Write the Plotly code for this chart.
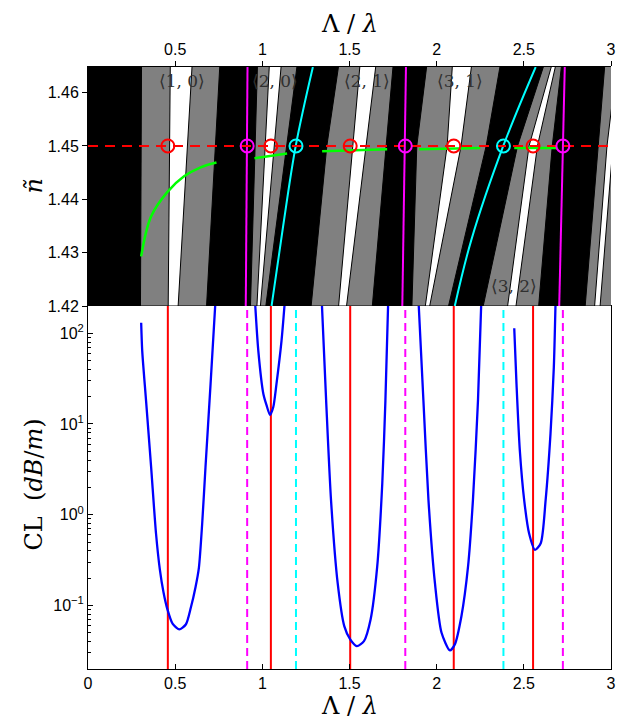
import plotly.graph_objects as go

# ---------------- data ----------------
# effective-index levels at which the band edges are sampled
BAND_N = [1.42, 1.45, 1.465]

# band groups: x (Lambda/lambda) of each edge at the BAND_N levels
BAND_GRAY_LEFT = [
    [0.301, 0.305, 0.307],
    [0.932, 0.959, 0.972],
    [1.280, 1.370, 1.4375],
    [1.858, 1.886, 1.943],
    [2.267, 2.464, 2.614],
    [2.852, 2.926, 2.964],
]
BAND_WHITE_LEFT = [
    [0.460, 0.467, 0.472],
    [0.969, 1.016, 1.040],
    [1.4375, 1.517, 1.5597],
    [1.935, 2.060, 2.090],
    [2.407, 2.530, 2.659],
    [2.906, 2.977, 3.032],
]
BAND_WHITE_RIGHT = [
    [0.517, 0.570, 0.597],
    [0.989, 1.068, 1.108],
    [1.483, 1.595, 1.651],
    [1.960, 2.140, 2.200],
    [2.455, 2.578, 2.682],
    [2.9375, 3.011, 3.068],
]
BAND_GRAY_RIGHT = [
    [0.680, 0.730, 0.756],
    [1.020, 1.139, 1.199],
    [1.631, 1.710, 1.750],
    [2.068, 2.284, 2.364],
    [2.585, 2.663, 2.716],
    [3.011, 3.136, 3.250],
]

MODE_LABELS = ["⟨1, 0⟩", "⟨2, 0⟩", "⟨2, 1⟩", "⟨3, 1⟩", "⟨3, 2⟩"]
MODE_LABEL_X = [0.542, 1.072, 1.602, 2.133, 2.445]
MODE_LABEL_N = [1.4622, 1.4622, 1.4622, 1.4622, 1.4237]

N_CORE = 1.45

# resonance positions
RED_X = [0.458, 1.049, 1.504, 2.098, 2.553]
MAGENTA_X = [0.913, 1.820, 2.724]
CYAN_X = [1.193, 2.383]

# slanted magenta lines (x at bottom and top of n range)
MAGENTA_LINE_N = [1.42, 1.465]
MAGENTA_LINE_X = [[0.905, 0.915], [1.803, 1.824], [2.703, 2.735]]

# cyan dispersion curves
CYAN1_X = [1.053, 1.119, 1.1915, 1.290]
CYAN1_N = [1.42, 1.4349, 1.45, 1.4648]
CYAN2_X = [2.104, 2.199, 2.382, 2.568]
CYAN2_N = [1.42, 1.4324, 1.45, 1.4648]

# green core-mode curves
GREEN_SEGMENTS = [
    ([0.305, 0.362, 0.456, 0.551, 0.646, 0.737],
     [1.4293, 1.4368, 1.4414, 1.4443, 1.4460, 1.4469]),
    ([0.955, 1.142], [1.4477, 1.4486]),
    ([1.343, 1.716], [1.4490, 1.4494]),
    ([1.899, 2.250], [1.4494, 1.4496]),
    ([2.445, 2.692], [1.4496, 1.4496]),
]

# confinement loss (dB/m) segments
CL_SEGMENTS = [
    ([0.305, 0.311, 0.333, 0.362, 0.390, 0.412, 0.433, 0.456, 0.485, 0.523, 0.561, 0.590, 0.617, 0.636, 0.655, 0.674, 0.703, 0.731],
     [130.6, 64, 18.1, 3.36, 0.625, 0.25, 0.14, 0.090, 0.063, 0.0545, 0.0617, 0.095, 0.16, 0.26, 0.80, 3.36, 27.5, 224]),
    ([0.958, 0.977, 1.006, 1.0245, 1.044, 1.0625, 1.081, 1.110, 1.129],
     [224, 64, 21.4, 16.0, 12.6, 15.3, 27.5, 82.4, 224]),
    ([1.341, 1.366, 1.394, 1.432, 1.470, 1.504, 1.542, 1.583, 1.621, 1.659, 1.688, 1.706, 1.722],
     [224, 18.1, 1.45, 0.177, 0.0592, 0.0423, 0.0357, 0.0405, 0.070, 0.269, 2.21, 18.1, 224]),
    ([1.896, 1.924, 1.953, 1.990, 2.028, 2.076, 2.104, 2.142, 2.180, 2.208, 2.237, 2.256],
     [224, 18.1, 1.45, 0.177, 0.050, 0.032, 0.0372, 0.0762, 0.269, 1.45, 18.1, 224]),
    ([2.445, 2.458, 2.477, 2.502, 2.530, 2.564, 2.597, 2.625, 2.653, 2.672, 2.682],
     [113.5, 27.5, 5.12, 1.45, 0.625, 0.41, 0.485, 1.45, 7.82, 42, 224]),
]

X_TICKS = [0, 0.5, 1, 1.5, 2, 2.5, 3]
X_TICK_TEXT = ["0", "0.5", "1", "1.5", "2", "2.5", "3"]
N_TICKS = [1.42, 1.43, 1.44, 1.45, 1.46]
CL_TICKS = [0.1, 1, 10, 100]
CL_TICK_TEXT = ["10<sup>−1</sup>", "10<sup>0</sup>", "10<sup>1</sup>", "10<sup>2</sup>"]
CL_MINOR = [m * 10 ** e for e in (-2, -1, 0, 1, 2) for m in range(2, 10)]

# ---------------- figure ----------------
RED, MAG, CYAN, GREEN, BLUE = "#ff0000", "#ff00ff", "#00ffff", "#00ff00", "#0000ff"
SANS = "Liberation Sans, Arial, sans-serif"
SERIF = "DejaVu Serif, Liberation Serif, serif"

fig = go.Figure()


def band_polygon(left, right):
    xs = list(left) + list(reversed(right))
    ys = list(BAND_N) + list(reversed(BAND_N))
    return xs + [xs[0]], ys + [ys[0]]


# gray bands, then white bands inside them
for gl, gr in zip(BAND_GRAY_LEFT, BAND_GRAY_RIGHT):
    xs, ys = band_polygon(gl, gr)
    fig.add_trace(go.Scatter(x=xs, y=ys, xaxis="x2", yaxis="y2", mode="lines",
                             fill="toself", fillcolor="#808080",
                             line=dict(color="black", width=1), hoverinfo="skip"))
for wl, wr in zip(BAND_WHITE_LEFT, BAND_WHITE_RIGHT):
    xs, ys = band_polygon(wl, wr)
    fig.add_trace(go.Scatter(x=xs, y=ys, xaxis="x2", yaxis="y2", mode="lines",
                             fill="toself", fillcolor="white",
                             line=dict(color="black", width=1), hoverinfo="skip"))

# green core-mode curves
for gx, gn in GREEN_SEGMENTS:
    fig.add_trace(go.Scatter(x=gx, y=gn, xaxis="x2", yaxis="y2", mode="lines",
                             line=dict(color=GREEN, width=2.5, shape="spline"),
                             hoverinfo="skip"))

# magenta lines
for mx in MAGENTA_LINE_X:
    fig.add_trace(go.Scatter(x=mx, y=MAGENTA_LINE_N, xaxis="x2", yaxis="y2", mode="lines",
                             line=dict(color=MAG, width=2), hoverinfo="skip"))

# cyan curves
for cx, cn in [(CYAN1_X, CYAN1_N), (CYAN2_X, CYAN2_N)]:
    fig.add_trace(go.Scatter(x=cx, y=cn, xaxis="x2", yaxis="y2", mode="lines",
                             line=dict(color=CYAN, width=2, shape="spline"),
                             hoverinfo="skip"))

# core index line
fig.add_trace(go.Scatter(x=[0, 3], y=[N_CORE, N_CORE], xaxis="x2", yaxis="y2", mode="lines",
                         line=dict(color=RED, width=2, dash="10px,7px"), hoverinfo="skip"))

# crossing markers
for xs, col in [(RED_X, RED), (MAGENTA_X, MAG), (CYAN_X, CYAN)]:
    fig.add_trace(go.Scatter(x=xs, y=[N_CORE] * len(xs), xaxis="x2", yaxis="y2",
                             mode="markers",
                             marker=dict(symbol="circle-open", size=13, color=col,
                                         line=dict(width=2, color=col)),
                             hoverinfo="skip"))

# mode labels
for lab, lx, ln in zip(MODE_LABELS, MODE_LABEL_X, MODE_LABEL_N):
    fig.add_annotation(x=lx, y=ln, xref="x2", yref="y2", text=lab, showarrow=False,
                       xanchor="center", yanchor="middle",
                       font=dict(family=SERIF, size=17, color="#303030"))

# ---- bottom panel: confinement loss ----
CL_TOP = 10 ** 2.3
CL_BOT = 10 ** -1.7
for xs, dash, col in [(RED_X, "solid", RED), (MAGENTA_X, "8px,5px", MAG), (CYAN_X, "8px,5px", CYAN)]:
    for xv in xs:
        fig.add_trace(go.Scatter(x=[xv, xv], y=[CL_BOT, CL_TOP], xaxis="x", yaxis="y",
                                 mode="lines", line=dict(color=col, width=2, dash=dash),
                                 hoverinfo="skip"))

for cx, cl in CL_SEGMENTS:
    fig.add_trace(go.Scatter(x=cx, y=cl, xaxis="x", yaxis="y", mode="lines",
                             line=dict(color=BLUE, width=2.3, shape="spline", smoothing=0.7),
                             hoverinfo="skip"))

# invisible trace carrying the minor-tick axis
fig.add_trace(go.Scatter(x=[None], y=[None], xaxis="x", yaxis="y3", mode="lines",
                         hoverinfo="skip"))

# black background of the band diagram
fig.add_shape(type="rect", xref="x2 domain", yref="y2 domain", x0=0, x1=1, y0=0, y1=1,
              fillcolor="black", line=dict(width=0), layer="below")

SPLIT = 363 / 602

fig.update_layout(
    width=623, height=725,
    margin=dict(l=88, r=7, t=67, b=56),
    paper_bgcolor="white", plot_bgcolor="white",
    showlegend=False,
    xaxis=dict(domain=[0, 1], anchor="y", range=[0, 3], tickvals=X_TICKS, ticktext=X_TICK_TEXT,
               ticks="inside", ticklen=5, tickcolor="black", showgrid=False, zeroline=False,
               showline=True, linecolor="black", linewidth=1, mirror=True,
               tickfont=dict(family=SANS, size=16, color="black")),
    yaxis=dict(domain=[0, SPLIT], anchor="x", type="log", range=[-1.7, 2.3],
               tickvals=CL_TICKS, ticktext=CL_TICK_TEXT,
               ticks="inside", ticklen=5, tickcolor="black", showgrid=False, zeroline=False,
               showline=True, linecolor="black", linewidth=1, mirror=True,
               tickfont=dict(family=SANS, size=16, color="black")),
    yaxis3=dict(overlaying="y", anchor="x", side="left", type="log", range=[-1.7, 2.3],
                tickvals=CL_MINOR, ticktext=[""] * len(CL_MINOR),
                ticks="inside", ticklen=3, tickcolor="black", showgrid=False, zeroline=False,
                showline=False),
    xaxis2=dict(domain=[0, 1], anchor="y2", side="top", range=[0, 3],
                tickvals=X_TICKS[1:], ticktext=X_TICK_TEXT[1:],
                ticks="outside", ticklen=5, tickcolor="black", showgrid=False, zeroline=False,
                showline=True, linecolor="black", linewidth=1,
                tickfont=dict(family=SANS, size=16, color="black")),
    yaxis2=dict(domain=[SPLIT, 1], anchor="x2", range=[1.42, 1.4648], tickvals=N_TICKS,
                ticktext=[f"{v:.2f}" for v in N_TICKS],
                ticks="outside", ticklen=5, tickcolor="black", showgrid=False, zeroline=False,
                showline=True, linecolor="black", linewidth=1,
                tickfont=dict(family=SANS, size=16, color="black")),
)

# axis titles
fig.add_annotation(x=0.5, y=1 + 43 / 602, xref="paper", yref="paper", text="Λ / <i>λ</i>",
                   xanchor="center", yanchor="middle", showarrow=False,
                   font=dict(family=SERIF, size=24, color="black"))
fig.add_annotation(x=0.5, y=-(706 - 669) / 602, xref="paper", yref="paper", text="Λ / <i>λ</i>",
                   xanchor="center", yanchor="middle", showarrow=False,
                   font=dict(family=SERIF, size=24, color="black"))
fig.add_annotation(x=(33 - 88) / 528, y=1 - (186 - 67) / 602, xref="paper", yref="paper",
                   text="<i>ñ</i>", textangle=-90, xanchor="center", yanchor="middle",
                   showarrow=False, font=dict(family=SERIF, size=24, color="black"))
fig.add_annotation(x=(33 - 88) / 528, y=1 - (485 - 67) / 602, xref="paper", yref="paper",
                   text="CL  (<i>dB</i>/<i>m</i>)", textangle=-90, xanchor="center",
                   yanchor="middle", showarrow=False,
                   font=dict(family=SERIF, size=24, color="black"))

fig.write_html("out.html")
